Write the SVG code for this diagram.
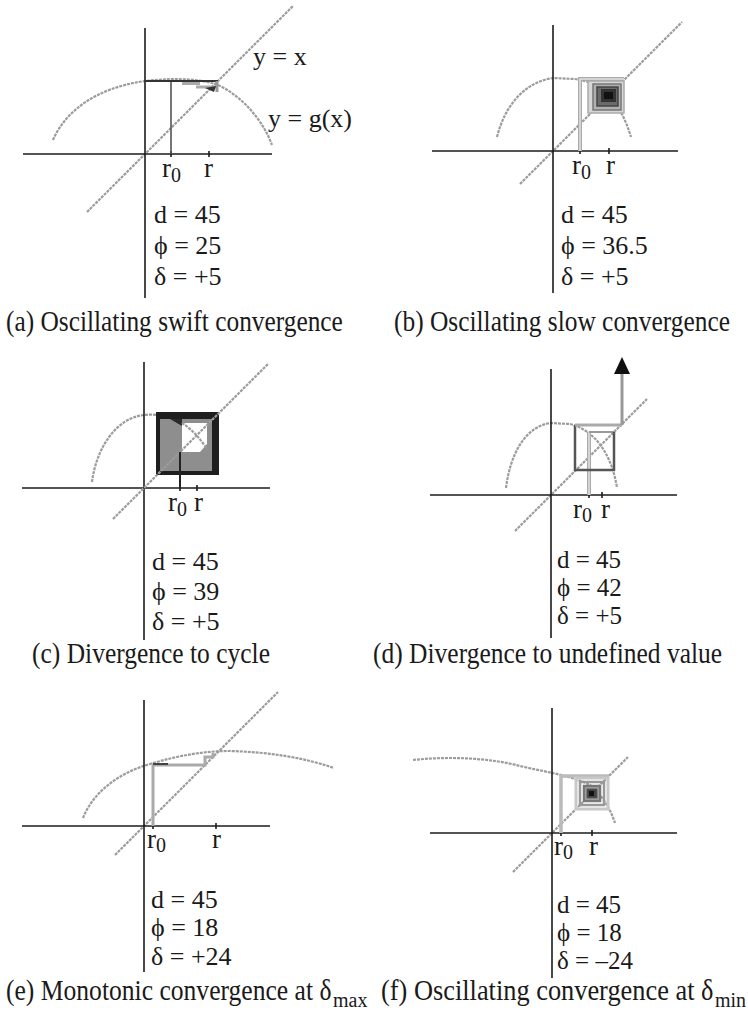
<svg xmlns="http://www.w3.org/2000/svg" width="748" height="1018" viewBox="0 0 748 1018">
<style>
.ax{stroke:#1c1c1c;stroke-width:1.6;fill:none}
.gl{stroke:#9c9c9c;stroke-width:2.2;fill:none;stroke-dasharray:3 1}
.cw{fill:none}
.t{font-family:"Liberation Serif","Times New Roman",serif;font-size:26px;fill:#1a1a1a}
.v25{font-size:25px}
.rl{font-size:27px}
.sb{font-size:20px}
.cap{font-size:29px}
.cs{font-size:20px}
</style>
<rect width="748" height="1018" fill="#fff"/>

<g id="panel-a">
<path class="gl" d="M53,140 C65,112 95,88 145,81 C180,77 205,80 218,85 C240,95 262,118 272,145"/>
<path class="gl" d="M87,212 L293,6"/>
<path class="ax" d="M145,28 V298 M23,154 H272 M171,151 V157 M209,151 V157"/>
<path class="cw" d="M171,154 V81" stroke="#555" stroke-width="1.6"/>
<path class="cw" d="M145,81 H218" stroke="#333" stroke-width="2"/>
<path class="cw" d="M182,83.5 H200" stroke="#aaa" stroke-width="3"/>
<path class="cw" d="M196,87 H216" stroke="#aaa" stroke-width="3"/>
<path class="cw" d="M217,81 V92" stroke="#999" stroke-width="3"/>
<polygon points="205,88 216,86 214,92" fill="#333"/>
<text class="t" x="253" y="65">y = x</text>
<text class="t" x="268" y="127">y = g(x)</text>
<text class="t rl" x="162" y="177">r<tspan class="sb" dy="5">0</tspan></text>
<text class="t rl" x="204" y="177">r</text>
<text class="t" x="154" y="223">d = 45</text>
<text class="t" x="154" y="254">ϕ = 25</text>
<text class="t" x="154" y="285">δ = +5</text>
<text class="t cap" transform="translate(6,331) scale(0.875,1)" textLength="385" lengthAdjust="spacingAndGlyphs">(a) Oscillating swift convergence</text>
</g>

<g id="panel-b">
<path class="gl" d="M497,137 C505,105 525,82 553,78 L575,79 C600,82 620,100 631,137"/>
<path class="gl" d="M520,184 L682,22"/>
<path class="ax" d="M553,25 V293 M432,151 H678 M580,148 V154 M609,148 V154"/>
<path class="cw" d="M580,151 V79 H624" stroke="#aaa" stroke-width="4"/>
<path class="cw" d="M580,151 V79 H624" stroke="#e2e2e2" stroke-width="1.5"/>
<rect x="588" y="81" width="36" height="32" fill="#d6d6d6" stroke="#aaa" stroke-width="1.5"/>
<rect x="593" y="84" width="28" height="26" fill="#b0b0b0" stroke="#777" stroke-width="1.5"/>
<rect x="597" y="87" width="21" height="19" fill="#6a6a6a" stroke="#444" stroke-width="1.5"/>
<rect x="601" y="89" width="15" height="13" fill="#333"/>
<rect x="604" y="92" width="9" height="7" fill="#111"/>
<text class="t rl" x="572" y="174">r<tspan class="sb" dy="5">0</tspan></text>
<text class="t rl" x="606" y="174">r</text>
<text class="t" x="561" y="223">d = 45</text>
<text class="t" x="561" y="254">ϕ = 36.5</text>
<text class="t" x="561" y="285">δ = +5</text>
<text class="t cap" transform="translate(394,331) scale(0.875,1)" textLength="384" lengthAdjust="spacingAndGlyphs">(b) Oscillating slow convergence</text>
</g>

<g id="panel-c">
<path class="gl" d="M92,482 C96,450 115,418 144,415 C165,413 180,420 197,435 S210,452 214,460"/>
<path class="ax" d="M144,362 V640 M22,488 H270 M180,485 V491 M197,485 V491"/>
<rect x="156" y="412" width="63" height="63" fill="#1e1e1e"/>
<rect x="160" y="419" width="52" height="52" fill="#8e8e8e"/>
<polygon points="170,419 182,419 182,426" fill="#2a2a2a"/>
<polygon points="182,423 207,423 207,444 200,452 182,452" fill="#fff"/>
<path class="gl" d="M182,423 Q196,432 207,449"/>
<path class="gl" d="M113,519 L268,364"/>
<path class="cw" d="M180,452 V488" stroke="#222" stroke-width="2"/>
<text class="t rl" x="168" y="511">r<tspan class="sb" dy="5">0</tspan></text>
<text class="t rl" x="194" y="511">r</text>
<text class="t" x="152" y="570">d = 45</text>
<text class="t" x="152" y="600">ϕ = 39</text>
<text class="t" x="152" y="630">δ = +5</text>
<text class="t cap" transform="translate(32,663) scale(0.875,1)" textLength="272" lengthAdjust="spacingAndGlyphs">(c) Divergence to cycle</text>
</g>

<g id="panel-d">
<path class="gl" d="M506,488 C510,455 525,426 551,423 L570,424 C595,430 612,455 617,488"/>
<path class="gl" d="M515,531 L647,399"/>
<path class="ax" d="M551,369 V638 M430,495 H677 M589,492 V498 M602,492 V498"/>
<path class="cw" d="M589,495 V432" stroke="#aaa" stroke-width="4"/>
<path class="cw" d="M589,495 V432" stroke="#e2e2e2" stroke-width="1.5"/>
<path class="cw" d="M589,432 H614" stroke="#999" stroke-width="2"/>
<path class="cw" d="M614,432 V470 H575 V425" stroke="#555" stroke-width="2.5"/>
<path class="cw" d="M575,425 H622" stroke="#aaa" stroke-width="3"/>
<path class="cw" d="M622,425 V372" stroke="#999" stroke-width="3"/>
<polygon points="622,357 614,374 630,374" fill="#111"/>
<text class="t rl" x="573" y="518">r<tspan class="sb" dy="4">0</tspan></text>
<text class="t rl" x="601" y="518">r</text>
<text class="t v25" x="557" y="568">d = 45</text>
<text class="t v25" x="557" y="596">ϕ = 42</text>
<text class="t v25" x="557" y="624">δ = +5</text>
<text class="t cap" transform="translate(373,663) scale(0.875,1)" textLength="399" lengthAdjust="spacingAndGlyphs">(d) Divergence to undefined value</text>
</g>

<g id="panel-e">
<path class="gl" d="M83,818 C92,795 115,774 150,764 C180,755 205,751 230,751 C270,752 305,758 334,768"/>
<path class="gl" d="M115,855 L278,692"/>
<path class="ax" d="M144,700 V972 M22,826 H270 M153,823 V829 M216,823 V829"/>
<path class="cw" d="M153,826 V765 H205 V757 H213 V753" stroke="#aaa" stroke-width="3"/>
<path class="cw" d="M153,764 H168" stroke="#444" stroke-width="2"/>
<text class="t rl" x="147" y="848">r<tspan class="sb" dy="4">0</tspan></text>
<text class="t rl" x="212" y="848">r</text>
<text class="t" x="151" y="908">d = 45</text>
<text class="t" x="151" y="936">ϕ = 18</text>
<text class="t" x="151" y="965">δ = +24</text>
<text class="t cap" transform="translate(6,1000) scale(0.875,1)" textLength="372" lengthAdjust="spacingAndGlyphs">(e) Monotonic convergence at δ</text>
<text class="t cs" x="333" y="1007">max</text>
</g>

<g id="panel-f">
<path class="gl" d="M413,760 C450,756 490,758 520,766 C545,772 570,775 590,785 C602,795 610,808 615,823"/>
<path class="gl" d="M513,872 L628,757"/>
<path class="ax" d="M552,708 V978 M430,833 H677 M561,830 V836 M592,830 V836"/>
<path class="cw" d="M561,833 V776 H609" stroke="#bbb" stroke-width="3.5"/>
<rect x="576" y="778" width="32" height="31" fill="none" stroke="#c8c8c8" stroke-width="3"/>
<rect x="580" y="782" width="24" height="23" fill="none" stroke="#999" stroke-width="2.5"/>
<rect x="584" y="786" width="16" height="15" fill="#aaa" stroke="#777" stroke-width="2.5"/>
<rect x="587" y="789" width="10" height="9" fill="#444" stroke="#555"/>
<rect x="589" y="791" width="5" height="5" fill="#111"/>
<text class="t rl" x="554" y="855">r<tspan class="sb" dy="4">0</tspan></text>
<text class="t rl" x="589" y="855">r</text>
<text class="t v25" x="557" y="913">d = 45</text>
<text class="t v25" x="557" y="941">ϕ = 18</text>
<text class="t v25" x="557" y="969">δ = –24</text>
<text class="t cap" transform="translate(381,1000) scale(0.875,1)" textLength="380" lengthAdjust="spacingAndGlyphs">(f) Oscillating convergence at δ</text>
<text class="t cs" x="715" y="1007">min</text>
</g>
</svg>
